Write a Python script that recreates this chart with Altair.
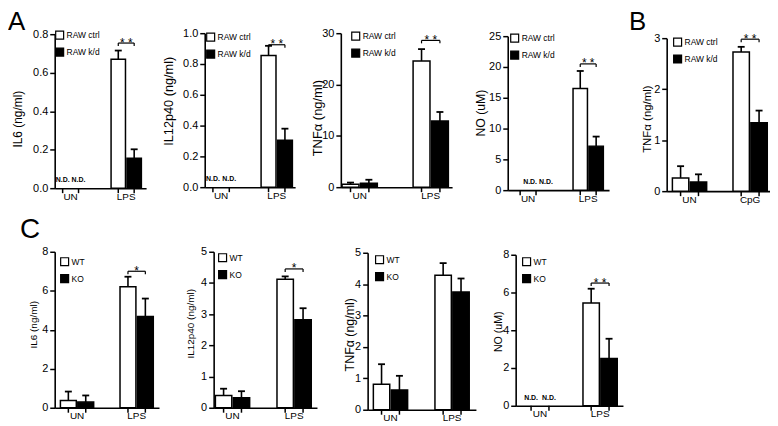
import altair as alt
import pandas as pd

FONT = "Liberation Sans"

# ---------------- data ----------------
groups_A = ["RAW ctrl", "RAW k/d"]
groups_C = ["WT", "KO"]
conds_LPS = ["UN", "LPS"]
conds_CpG = ["UN", "CpG"]

# order: [UN-g1, UN-g2, STIM-g1, STIM-g2]; None = N.D.
a_il6_mean = [None, None, 0.67, 0.155]
a_il6_err = [None, None, 0.045, 0.047]
a_il12_mean = [None, None, 0.855, 0.305]
a_il12_err = [None, None, 0.063, 0.075]
a_tnf_mean = [0.55, 0.75, 24.6, 12.9]
a_tnf_err = [0.35, 0.7, 2.3, 1.75]
a_no_mean = [None, None, 16.5, 7.15]
a_no_err = [None, None, 2.85, 1.55]
b_tnf_mean = [0.26, 0.18, 2.73, 1.34]
b_tnf_err = [0.23, 0.15, 0.1, 0.24]
c_il6_mean = [0.37, 0.29, 6.21, 4.68]
c_il6_err = [0.46, 0.34, 0.51, 0.92]
c_il12_mean = [0.39, 0.32, 4.12, 2.82]
c_il12_err = [0.22, 0.21, 0.09, 0.37]
c_tnf_mean = [0.81, 0.63, 4.28, 3.75]
c_tnf_err = [0.64, 0.45, 0.39, 0.43]
c_no_mean = [None, None, 5.45, 2.5]
c_no_err = [None, None, 0.75, 1.05]

# significance brackets: (height, label)
sig_a_il6 = (0.754, "* *")
sig_a_il12 = (0.925, "* *")
sig_a_tnf = (28.6, "* *")
sig_a_no = (20.5, "* *")
sig_b_tnf = (2.98, "* *")
sig_c_il6 = (7.0, "*")
sig_c_il12 = (4.45, "*")
sig_c_no = (6.5, "* *")


def band_params(W, c0, c1, g):
    step = c1 - c0
    pi = 1 - g / step
    used = step * (2 - pi)
    rem = W - used
    po = max(rem / (2 * step), 0)
    s = c0 - g / 2
    al = min(max(s / rem, 0), 1) if rem > 0 else 0.5
    return pi, po, al


def panel(mean, err, conds, groups, ytitle, ymax, ystep, sig, lay, letter=None):
    W = lay["end"] - lay["ax"]
    H = lay["H"]
    rtop = lay["rtop"]
    g = lay["g"]
    pi, po, al = band_params(W, lay["c0"] - lay["ax"], lay["c1"] - lay["ax"], g)
    half = g / 2.0
    offs = [-half / 2.0, half / 2.0]
    bw = half - 1.5

    ticks = []
    v = 0.0
    while v <= ymax + 1e-9:
        ticks.append(round(v, 6))
        v += ystep

    xs = alt.Scale(domain=conds, paddingInner=pi, paddingOuter=po, align=al)
    xax = alt.Axis(title=None, ticks=False, tickSize=0, domain=True, domainColor="black",
                   domainWidth=1.6, labelAngle=0, labelFontSize=10, labelPadding=3,
                   labelFont=FONT, labelColor="black")
    ys = alt.Scale(domain=[0, ymax], range=[H, rtop], nice=False, zero=True)
    yax = alt.Axis(title=ytitle, values=ticks, format=lay["fmt"], grid=False,
                   domainColor="black", domainWidth=1.6, tickColor="black", tickWidth=1.5,
                   tickSize=5, labelFontSize=11, labelPadding=2, labelFont=FONT,
                   labelColor="black", titleFont=FONT, titleFontSize=lay["tfs"],
                   titleFontWeight="normal", titleColor="black", titleX=lay["tx"],
                   titleY=lay["ty"], titleAngle=270, titleBaseline="bottom", titleAlign="center")
    X = alt.X("cond:N", scale=xs, axis=xax, sort=conds)
    fill_scale = alt.Scale(domain=groups, range=["white", "black"])
    legend = alt.Legend(title=None, orient="none", legendX=lay["lx"], legendY=lay["ly"],
                        symbolType="square", symbolSize=64, symbolStrokeColor="black",
                        symbolStrokeWidth=1.2, labelFontSize=8.5, labelFont=FONT,
                        labelColor="black", labelOffset=2, rowPadding=3, padding=0)

    layers = []
    for j, gr in enumerate(groups):
        rows = []
        for i, c in enumerate(conds):
            k = 2 * i + j
            m = mean[k]
            e = err[k]
            rows.append(dict(cond=c, grp=gr,
                             mean=m if m is not None else 0.0,
                             hi=(m + e) if m is not None else 0.0,
                             nd=(m is None), ndtext="N.D." if m is None else ""))
        base = alt.Chart(pd.DataFrame(rows))
        dx = offs[j]
        bars = base.transform_filter("!datum.nd").mark_bar(
            stroke="black", strokeWidth=1.5, width=bw, xOffset=dx).encode(
            x=X, y=alt.Y("mean:Q", scale=ys, axis=yax),
            fill=alt.Fill("grp:N", sort=groups, scale=fill_scale, legend=legend))
        errs = base.transform_filter("!datum.nd").mark_rule(
            color="black", strokeWidth=1.6, xOffset=dx).encode(
            x=X, y=alt.Y("mean:Q", scale=ys, axis=yax), y2="hi:Q")
        cap = base.transform_filter("!datum.nd").mark_tick(
            orient="horizontal", color="black", size=7, thickness=1.8, opacity=1,
            xOffset=dx).encode(x=X, y=alt.Y("hi:Q", scale=ys, axis=yax))
        nds = base.transform_filter("datum.nd").mark_text(
            font=FONT, fontSize=7, fontWeight="bold", color="black", baseline="alphabetic",
            dy=-6, dx=dx + lay.get("ndx", 0)).encode(
            x=X, y=alt.Y("mean:Q", scale=ys, axis=yax), text="ndtext:N")
        xt = base.mark_rule(color="black", strokeWidth=1.5, xOffset=dx).encode(
            x=X, y=alt.value(H), y2=alt.value(H + 5))
        layers += [bars, errs, cap, nds, xt]

    if sig is not None:
        lvl, lab = sig
        leg = 3.0 * ymax / (H - rtop)
        sdf = pd.DataFrame([dict(cond=conds[1], lvl=lvl, low=lvl - leg, lab=lab)])
        sb = alt.Chart(sdf)
        br = sb.mark_tick(orient="horizontal", color="black", size=half, thickness=1.2,
                          opacity=1).encode(x=X, y=alt.Y("lvl:Q", scale=ys, axis=yax))
        legL = sb.mark_rule(color="black", strokeWidth=1.2, xOffset=offs[0]).encode(
            x=X, y=alt.Y("lvl:Q", scale=ys, axis=yax), y2="low:Q")
        legR = sb.mark_rule(color="black", strokeWidth=1.2, xOffset=offs[1]).encode(
            x=X, y=alt.Y("lvl:Q", scale=ys, axis=yax), y2="low:Q")
        st = sb.mark_text(font=FONT, fontSize=12, color="black", baseline="alphabetic",
                          dy=3.5).encode(x=X, y=alt.Y("lvl:Q", scale=ys, axis=yax), text="lab:N")
        layers += [br, legL, legR, st]

    if letter is not None:
        t, lx, ly, fs = letter
        lt = alt.Chart(pd.DataFrame({"t": [t]})).mark_text(
            font=FONT, fontSize=fs, color="black", align="left", baseline="alphabetic").encode(
            x=alt.value(lx), y=alt.value(ly), text="t:N")
        layers.append(lt)

    return alt.layer(*layers).properties(width=W, height=H)


def spacer(w):
    return alt.Chart(pd.DataFrame({"s": [0]})).mark_point(opacity=0).encode(
        x=alt.value(0), y=alt.value(0)).properties(width=w, height=1)


# ---------------- layout (page pixel positions) ----------------
LA1 = dict(ax=55, end=147, c0=70, c1=126, g=32, H=156, rtop=1, fmt=".1f", tfs=12, tx=-30, ty=86, lx=0, ly=-3)
LA2 = dict(ax=206, end=297, c0=220.5, c1=276.5, g=33, H=155, rtop=0, fmt=".1f", tfs=12.8, tx=-29, ty=68, lx=1, ly=-1)
LA3 = dict(ax=343, end=455, c0=362, c1=433.5, g=37, H=155, rtop=0, fmt="d", tfs=13, tx=-16, ty=85, lx=10, ly=-2)
LA4 = dict(ax=511, end=613, c0=531.5, c1=592, g=32, H=158, rtop=3, fmt="d", tfs=12.3, tx=-20, ty=80, lx=2, ly=0, ndx=10)
LB = dict(ax=671, end=775, c0=694, c1=755, g=36, H=159, rtop=5, fmt="d", tfs=11.5, tx=-14, ty=86, lx=6, ly=4)
LC1 = dict(ax=43, end=148, c0=65.5, c1=125.5, g=35, H=157, rtop=0, fmt="d", tfs=10, tx=-16, ty=73, lx=5, ly=5)
LC2 = dict(ax=203, end=307, c0=222, c1=284, g=36, H=157, rtop=0, fmt="d", tfs=10, tx=-18, ty=72, lx=4, ly=1)
LC3 = dict(ax=358, end=467, c0=381, c1=443, g=36, H=159, rtop=1, fmt="d", tfs=12.5, tx=-11, ty=83, lx=7, ly=3)
LC4 = dict(ax=507, end=615, c0=531.5, c1=592, g=36, H=155, rtop=3, fmt="d", tfs=10.7, tx=-12, ty=80, lx=6, ly=5)

pA1 = panel(a_il6_mean, a_il6_err, conds_LPS, groups_A, "IL6 (ng/ml)", 0.8, 0.2, sig_a_il6, LA1,
            letter=("A", -47, -3, 26))
pA2 = panel(a_il12_mean, a_il12_err, conds_LPS, groups_A, "IL12p40 (ng/ml)", 1.0, 0.2, sig_a_il12, LA2)
pA3 = panel(a_tnf_mean, a_tnf_err, conds_LPS, groups_A, "TNFα (ng/ml)", 30, 10, sig_a_tnf, LA3)
pA4 = panel(a_no_mean, a_no_err, conds_LPS, groups_A, "NO (uM)", 25, 5, sig_a_no, LA4)
pB = panel(b_tnf_mean, b_tnf_err, conds_CpG, groups_A, "TNFα (ng/ml)", 3, 1, sig_b_tnf, LB,
           letter=("B", -38, -3, 26))
pC1 = panel(c_il6_mean, c_il6_err, conds_LPS, groups_C, "IL6  (ng/ml)", 8, 2, sig_c_il6, LC1,
            letter=("C", -35, -14, 28))
pC2 = panel(c_il12_mean, c_il12_err, conds_LPS, groups_C, "IL12p40  (ng/ml)", 5, 1, sig_c_il12, LC2)
pC3 = panel(c_tnf_mean, c_tnf_err, conds_LPS, groups_C, "TNFα (ng/ml)", 5, 1, None, LC3)
pC4 = panel(c_no_mean, c_no_err, conds_LPS, groups_C, "NO (uM)", 8, 2, sig_c_no, LC4)

row1 = alt.hconcat(
    pA1, spacer(LA2["ax"] - LA1["end"]),
    pA2, spacer(LA3["ax"] - LA2["end"]),
    pA3, spacer(LA4["ax"] - LA3["end"]),
    pA4, spacer(LB["ax"] - LA4["end"]),
    pB, spacing=0, bounds="flush",
).resolve_scale(fill="independent", x="independent", y="independent").resolve_legend(fill="independent")

row2 = alt.hconcat(
    pC1, spacer(LC2["ax"] - LC1["end"]),
    pC2, spacer(LC3["ax"] - LC2["end"]),
    pC3, spacer(LC4["ax"] - LC3["end"]),
    pC4, spacing=0, bounds="flush",
).resolve_scale(fill="independent", x="independent", y="independent").resolve_legend(fill="independent")

chart = alt.vconcat(row1, row2, spacing=12, padding=0).resolve_scale(
    fill="independent", x="independent", y="independent").resolve_legend(
    fill="independent").configure_view(stroke=None).configure_axis(grid=False)

chart.save("out.html", embed_options={"renderer": "svg", "actions": False})
